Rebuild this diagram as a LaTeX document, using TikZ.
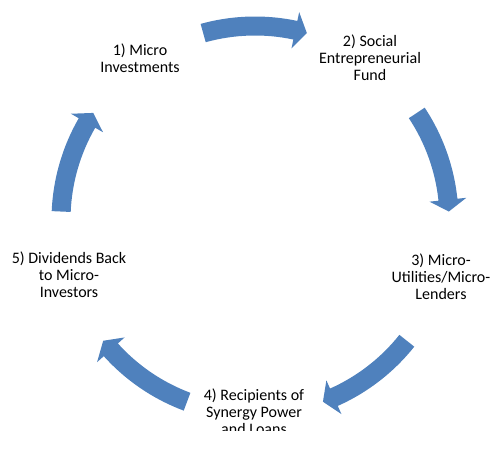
\documentclass[tikz,border=0pt]{standalone}
\usepackage{fontspec}
\setmainfont{Carlito}
\usepackage{tikz}
\usetikzlibrary{positioning}
\definecolor{arrowblue}{RGB}{79,129,189}
\tikzstyle{lbl}=[align=center,inner sep=0pt,font=\fontsize{16}{17}\selectfont]
\tikzstyle{blk}=[fill=arrowblue,draw=none]

\begin{document}
\begin{tikzpicture}[x=1pt,y=1pt]
\useasboundingbox (0,0) rectangle (500,455);
\clip (0,0) rectangle (500,455);

%cycle arrows
\foreach \a in {90,18,-54,-126,-198} {
\fill[blk,shift={(255,235)}] ({\a+15.5}:203.5) arc[start angle=\a+15.5, end angle=\a-12, radius=203.5]
  -- ({\a-12}:212.5) -- ({\a-15.5}:194) -- ({\a-12}:175.5) -- ({\a-12}:184.5)
  arc[start angle=\a-12, end angle=\a+15.5, radius=184.5] -- cycle;
}

%labels
\node[lbl] (invest) at (140,397) {1) Micro\\Investments};
\node[lbl] (fund) at (370,397) {2) Social\\Entrepreneurial\\Fund};
\node[lbl] (lenders) at (441,178) {3) Micro-\\Utilities/Micro-\\Lenders};
\node[lbl] (back) at (69,180) {5) Dividends Back\\to Micro-\\Investors};

%bottom label, cut off
\begin{scope}
\clip (0,25) rectangle (500,455);
\node[lbl] (recip) at (254,43) {4) Recipients of\\Synergy Power\\and Loans};
\end{scope}

\end{tikzpicture}
\end{document}
